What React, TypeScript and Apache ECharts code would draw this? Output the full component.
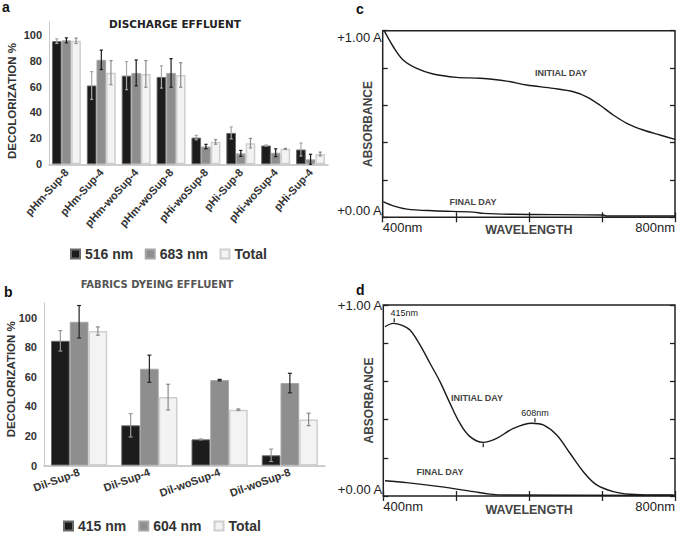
import React, { useEffect, useRef } from 'react';
import * as echarts from 'echarts';

// ---------- Panel a : discharge effluent ----------
const dischargeCategories = ['pHm-Sup-8', 'pHm-Sup-4', 'pHm-woSup-4', 'pHm-woSup-8', 'pHi-woSup-8', 'pHi-Sup-8', 'pHi-woSup-4', 'pHi-Sup-4'];
const discharge516 = [95, 60.8, 68.4, 67.4, 20.6, 24.2, 14.5, 11.4];
const discharge516Err = [1.8, 10.7, 10.8, 8.6, 1.7, 4.6, 0.4, 5];
const discharge683 = [95.6, 80.6, 70.5, 70.5, 13.7, 8.4, 8.9, 3.8];
const discharge683Err = [1.9, 7.5, 10, 11, 1.7, 2.3, 3, 3.9];
const dischargeTotal = [95.3, 70.7, 69.7, 68.9, 17.3, 16.3, 11.9, 7.9];
const dischargeTotalErr = [2.1, 9.3, 10.3, 9.5, 1.8, 3.7, 0.4, 1.5];

// ---------- Panel b : fabrics dyeing effluent ----------
const fabricsCategories = ['Dil-Sup-8', 'Dil-Sup-4', 'Dil-woSup-4', 'Dil-woSup-8'];
const fabrics415 = [84.4, 27.2, 17.7, 6.9];
const fabrics415Err = [6.9, 7.9, 0.3, 4.2];
const fabrics604 = [97.3, 65.5, 57.8, 55.8];
const fabrics604Err = [11, 9.2, 0.5, 6.6];
const fabricsTotal = [91, 46.3, 37.8, 31.2];
const fabricsTotalErr = [2.8, 8.7, 0.5, 4.2];

const decolorTicks = [0, 20, 40, 60, 80, 100];

// ---------- Panel c : discharge spectra ----------
const cInitialDay: [number, number][] = [
  [402, 1.0], [414.5, 0.914], [428, 0.843], [446.5, 0.798], [469, 0.768], [501, 0.75], [533, 0.745],
  [569.7, 0.73], [597, 0.709], [633.5, 0.691], [661, 0.673], [679, 0.646], [697, 0.602], [715.5, 0.548],
  [734, 0.504], [756.6, 0.468], [779.5, 0.441], [800, 0.418],
];
const cFinalDay: [number, number][] = [
  [400.8, 0.084], [414.5, 0.061], [433, 0.044], [469, 0.035], [524, 0.028], [537.7, 0.021],
  [578.7, 0.016], [702, 0.012], [706.5, 0.007], [800, 0.007],
];

// ---------- Panel d : fabrics spectra ----------
const dInitialDay: [number, number][] = [
  [402.3, 0.886], [413.7, 0.904], [425, 0.895], [436.6, 0.869], [450.3, 0.791], [464, 0.695],
  [477.7, 0.599], [491.5, 0.485], [505, 0.381], [518.9, 0.311], [537, 0.281], [555.5, 0.302],
  [578.3, 0.354], [603.5, 0.381], [619.4, 0.372], [637.8, 0.319], [656, 0.224], [674.3, 0.127],
  [692.6, 0.058], [715.4, 0.023], [738.3, 0.009], [770, 0.005], [798, 0.005],
];
const dFinalDay: [number, number][] = [
  [402.3, 0.08], [432, 0.07], [477.7, 0.049], [523.4, 0.023], [546.3, 0.01], [569, 0.005], [800, 0.003],
];
const dPeaks = [
  { name: '415nm', coord: [415, 0.905] },
  { name: '608nm', coord: [608, 0.381] },
];
const dValley = [537, 0.281];

const wavelengthTicks = [400, 500, 600, 700, 800];

const FONT = "'Liberation Sans', Arial, sans-serif";
const TFONT = "'DejaVu Sans', sans-serif";

function errorSeries(
  cats: string[], vals: number[], errs: number[], k: number, gap: number, color: string, axis: number, cap: number,
) {
  return {
    type: 'custom',
    xAxisIndex: axis,
    yAxisIndex: axis,
    z: 10,
    silent: true,
    encode: { x: 0, y: 1 },
    data: cats.map((_, i) => [i, vals[i], errs[i]]),
    renderItem: (params: any, api: any) => {
      const ci = api.value(0);
      const v = api.value(1);
      const e = api.value(2);
      const band = api.size([1, 0])[0];
      const bw = (band * (1 - gap)) / 3;
      const x = api.coord([ci, 0])[0] + (k - 1) * bw;
      const top = api.coord([ci, v + e])[1];
      const bot = api.coord([ci, Math.max(0, v - e)])[1];
      const style = { stroke: color, lineWidth: 1.2 };
      return {
        type: 'group',
        children: [
          { type: 'line', shape: { x1: x, y1: top, x2: x, y2: bot }, style },
          { type: 'line', shape: { x1: x - cap, y1: top, x2: x + cap, y2: top }, style },
          { type: 'line', shape: { x1: x - cap, y1: bot, x2: x + cap, y2: bot }, style },
        ],
      };
    },
  };
}

const barStyles = [
  { color: '#1c1c1c', borderColor: '#6a6a6a', borderWidth: 1 },
  { color: '#8e8e8e', borderColor: '#a6a6a6', borderWidth: 1 },
  { color: '#f3f3f3', borderColor: '#cfcfcf', borderWidth: 1.5 },
];

const GAP_A = 0.17;
const GAP_B = 0.2;

function catAxis(cats: string[], grid: number, rotate: number) {
  return {
    type: 'category',
    gridIndex: grid,
    data: cats,
    axisLine: { show: true, lineStyle: { color: '#bdbdbd', width: 1.5 } },
    axisTick: { show: false },
    axisLabel: { interval: 0, rotate, margin: 6, fontFamily: FONT, fontWeight: 'bold', fontSize: 11, color: '#333' },
  };
}

function decolorAxis(grid: number, gap: number, namePadding: number[]) {
  return {
    type: 'value',
    gridIndex: grid,
    min: 0,
    max: 110,
    interval: 20,
    name: 'DECOLORIZATION %',
    nameLocation: 'middle',
    nameRotate: 90,
    nameGap: gap,
    nameMoveOverlap: false,
    nameTextStyle: { fontFamily: FONT, fontWeight: 'bold', fontSize: 11.5, color: '#333', padding: namePadding },
    axisLine: { show: true, lineStyle: { color: '#c8c8c8', width: 1 } },
    axisTick: { show: false },
    splitLine: { show: false },
    axisLabel: {
      margin: 7,
      fontFamily: FONT, fontWeight: 'bold', fontSize: 11, color: '#333',
      formatter: (v: number) => (decolorTicks.includes(v) ? String(v) : ''),
    },
  };
}

function wlAxis(grid: number, top: boolean, nameGap: number) {
  return {
    type: 'value',
    gridIndex: grid,
    position: top ? 'top' : 'bottom',
    min: wavelengthTicks[0],
    max: wavelengthTicks[wavelengthTicks.length - 1],
    interval: 100,
    name: top ? '' : 'WAVELENGTH',
    nameLocation: 'middle',
    nameGap,
    nameMoveOverlap: false,
    nameTextStyle: { fontFamily: FONT, fontWeight: 'bold', fontSize: 12.5, color: '#444', verticalAlign: 'top' },
    axisLine: { show: false },
    axisTick: { show: true, inside: true, length: 5, lineStyle: { color: '#222', width: 1.3 } },
    splitLine: { show: false },
    axisLabel: {
      show: !top,
      margin: 4,
      fontFamily: FONT, fontSize: 13, color: '#222',
      alignMinLabel: 'left', alignMaxLabel: 'right',
      formatter: (v: number) => (v === 400 || v === 800 ? `${v}nm` : ''),
    },
  };
}

function absAxis(grid: number, right: boolean, nameGap: number, maxVA: string) {
  return {
    type: 'value',
    gridIndex: grid,
    position: right ? 'right' : 'left',
    min: 0,
    max: 1,
    interval: 0.2,
    name: right ? '' : 'ABSORBANCE',
    nameLocation: 'middle',
    nameRotate: 90,
    nameGap,
    nameMoveOverlap: false,
    nameTextStyle: { fontFamily: FONT, fontWeight: 'bold', fontSize: 12, color: '#444' },
    axisLine: { show: false },
    axisTick: { show: true, inside: true, length: 5, lineStyle: { color: '#222', width: 1.3 } },
    splitLine: { show: false },
    axisLabel: {
      show: !right,
      margin: 1,
      fontFamily: FONT, fontSize: 13, color: '#222',
      verticalAlignMinLabel: 'bottom', verticalAlignMaxLabel: maxVA,
      formatter: (v: number) => (Math.abs(v) < 1e-6 ? '+0.00 A' : Math.abs(v - 1) < 1e-6 ? '+1.00 A' : ''),
    },
  };
}

const dayLabel = { fontFamily: FONT, fontWeight: 'bold', fontSize: 9, color: '#444' };

function textMark(name: string, coord: number[]) {
  return {
    name, coord, symbol: 'circle', symbolSize: 1, itemStyle: { color: 'rgba(0,0,0,0)' },
    label: { show: true, position: 'inside', formatter: '{b}', ...dayLabel },
  };
}

const lineBase = {
  type: 'line',
  showSymbol: false,
  smooth: 0.35,
  clip: true,
  silent: true,
  lineStyle: { color: '#1a1a1a', width: 1.4 },
};

const letterStyle = { fontFamily: FONT, fontWeight: 'bold', fontSize: 14, color: '#111' };

const option: any = {
  animation: false,
  backgroundColor: '#ffffff',
  title: [
    { text: 'a', left: 2, top: 0, padding: 0, textStyle: letterStyle },
    { text: 'DISCHARGE EFFLUENT', left: 175, top: 18, padding: 0, textAlign: 'center', textStyle: { fontFamily: TFONT, fontWeight: 'bold', fontSize: 10.5, color: '#222' } },
    { text: 'b', left: 4, top: 285, padding: 0, textStyle: letterStyle },
    { text: 'FABRICS DYEING EFFLUENT', left: 157, top: 279, padding: 0, textAlign: 'center', textStyle: { fontFamily: TFONT, fontWeight: 'bold', fontSize: 10, color: '#555' } },
    { text: 'c', left: 356, top: 2, padding: 0, textStyle: letterStyle },
    { text: 'd', left: 356, top: 283, padding: 0, textStyle: letterStyle },
  ],
  legend: [
    {
      left: 70, top: 247, padding: 0, icon: 'rect', itemWidth: 9, itemHeight: 9, itemGap: 11.5, selectedMode: false,
      data: ['516 nm', '683 nm', 'Total'],
      textStyle: { fontFamily: FONT, fontWeight: 'bold', fontSize: 14, color: '#333' },
    },
    {
      left: 63, top: 519, padding: 0, icon: 'rect', itemWidth: 9, itemHeight: 9, itemGap: 12, selectedMode: false,
      data: ['415 nm', '604 nm', 'Total'],
      textStyle: { fontFamily: FONT, fontWeight: 'bold', fontSize: 14, color: '#333' },
    },
  ],
  grid: [
    { left: 49, top: 21.7, width: 279, height: 142.6 },
    { left: 44, top: 303, width: 281, height: 162.5 },
    { left: 382.7, top: 30.7, width: 292.3, height: 186.6, show: true, borderColor: '#222', borderWidth: 1.5, backgroundColor: 'transparent' },
    { left: 383.3, top: 305, width: 291.7, height: 191, show: true, borderColor: '#222', borderWidth: 1.5, backgroundColor: 'transparent' },
  ],
  xAxis: [
    catAxis(dischargeCategories, 0, 48),
    catAxis(fabricsCategories, 1, 20),
    wlAxis(2, false, 6),
    wlAxis(2, true, 0),
    wlAxis(3, false, 7),
    wlAxis(3, true, 0),
  ],
  yAxis: [
    decolorAxis(0, 31, [0, 16, 0, 0]),
    decolorAxis(1, 27, [0, 0, 0, 10]),
    absAxis(2, false, 9, 'top'),
    absAxis(2, true, 0, 'top'),
    absAxis(3, false, 8, 'middle'),
    absAxis(3, true, 0, 'middle'),
  ],
  series: [
    { name: '516 nm', type: 'bar', xAxisIndex: 0, yAxisIndex: 0, barGap: '0%', barCategoryGap: `${GAP_A * 100}%`, data: discharge516, itemStyle: barStyles[0] },
    { name: '683 nm', type: 'bar', xAxisIndex: 0, yAxisIndex: 0, barGap: '0%', barCategoryGap: `${GAP_A * 100}%`, data: discharge683, itemStyle: barStyles[1] },
    { name: 'Total', type: 'bar', xAxisIndex: 0, yAxisIndex: 0, barGap: '0%', barCategoryGap: `${GAP_A * 100}%`, data: dischargeTotal, itemStyle: barStyles[2] },
    errorSeries(dischargeCategories, discharge516, discharge516Err, 0, GAP_A, '#a8a8a8', 0, 1.6),
    errorSeries(dischargeCategories, discharge683, discharge683Err, 1, GAP_A, '#1a1a1a', 0, 1.6),
    errorSeries(dischargeCategories, dischargeTotal, dischargeTotalErr, 2, GAP_A, '#8c8c8c', 0, 1.6),

    { name: '415 nm', type: 'bar', xAxisIndex: 1, yAxisIndex: 1, barGap: '0%', barCategoryGap: `${GAP_B * 100}%`, data: fabrics415, itemStyle: barStyles[0] },
    { name: '604 nm', type: 'bar', xAxisIndex: 1, yAxisIndex: 1, barGap: '0%', barCategoryGap: `${GAP_B * 100}%`, data: fabrics604, itemStyle: barStyles[1] },
    { name: 'Total', type: 'bar', xAxisIndex: 1, yAxisIndex: 1, barGap: '0%', barCategoryGap: `${GAP_B * 100}%`, data: fabricsTotal, itemStyle: barStyles[2] },
    errorSeries(fabricsCategories, fabrics415, fabrics415Err, 0, GAP_B, '#9a9a9a', 1, 2),
    errorSeries(fabricsCategories, fabrics604, fabrics604Err, 1, GAP_B, '#222222', 1, 2),
    errorSeries(fabricsCategories, fabricsTotal, fabricsTotalErr, 2, GAP_B, '#8a8a8a', 1, 2),

    {
      ...lineBase, name: 'c initial day', xAxisIndex: 2, yAxisIndex: 2, data: cInitialDay,
      markPoint: { silent: true, data: [textMark('INITIAL DAY', [644, 0.773])] },
    },
    {
      ...lineBase, name: 'c final day', xAxisIndex: 2, yAxisIndex: 2, data: cFinalDay,
      markPoint: { silent: true, data: [textMark('FINAL DAY', [523.6, 0.084])] },
    },
    {
      ...lineBase, name: 'd initial day', xAxisIndex: 4, yAxisIndex: 4, data: dInitialDay,
      markPoint: {
        silent: true,
        data: [
          ...dPeaks.map((p, i) => ({
            name: p.name, coord: p.coord, symbol: 'rect', symbolSize: [1.2, 4], symbolOffset: [0, -3],
            itemStyle: { color: '#222' },
            label: { show: true, position: 'top', distance: 1, offset: i === 0 ? [10, 0] : [0, 0], formatter: '{b}', fontFamily: FONT, fontSize: 9, color: '#222' },
          })),
          { name: 'valley', coord: dValley, symbol: 'rect', symbolSize: [1.2, 4], symbolOffset: [0, 3], itemStyle: { color: '#222' }, label: { show: false } },
          textMark('INITIAL DAY', [528.5, 0.512]),
        ],
      },
    },
    {
      ...lineBase, name: 'd final day', xAxisIndex: 4, yAxisIndex: 4, data: dFinalDay,
      markPoint: { silent: true, data: [textMark('FINAL DAY', [477.7, 0.126])] },
    },
  ],
};

export default function App() {
  const ref = useRef<HTMLDivElement>(null);
  useEffect(() => {
    const chart = echarts.init(ref.current!, null, { renderer: 'svg' });
    chart.setOption(option);
    return () => chart.dispose();
  }, []);
  return (
    <div
      ref={ref}
      style={{ position: 'absolute', left: 0, top: 0, width: 685, height: 535, background: '#fff' }}
    />
  );
}
